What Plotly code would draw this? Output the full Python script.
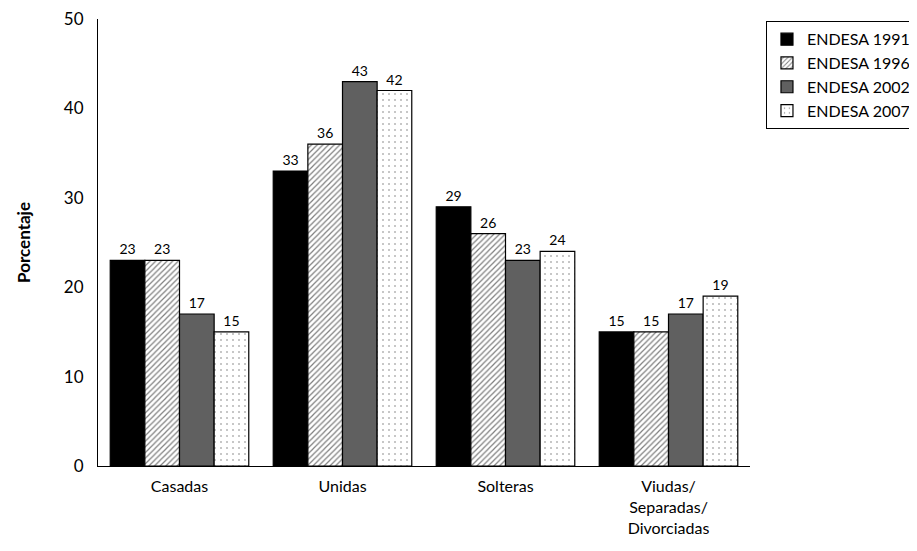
import plotly.graph_objects as go

categories = ["Casadas", "Unidas", "Solteras", "Viudas/<br>Separadas/<br>Divorciadas"]
series_names = ["ENDESA 1991", "ENDESA 1996", "ENDESA 2002", "ENDESA 2007"]
v1991 = [23, 33, 29, 15]
v1996 = [23, 36, 26, 15]
v2002 = [17, 43, 23, 17]
v2007 = [15, 42, 24, 19]
values = [v1991, v1996, v2002, v2007]
y_ticks = [0, 10, 20, 30, 40, 50]

FONT = "Lato"
styles = [
    dict(color="#000000", pattern=dict(shape="")),
    dict(color="#ffffff", pattern=dict(shape="/", fgcolor="#000000", bgcolor="#ffffff", size=4, solidity=0.3, fillmode="overlay")),
    dict(color="#606060", pattern=dict(shape="")),
    dict(color="#ffffff", pattern=dict(shape=".", fgcolor="#000000", bgcolor="#ffffff", size=6, solidity=0.06, fillmode="overlay")),
]

fig = go.Figure()
for name, vals, st in zip(series_names, values, styles):
    fig.add_trace(go.Bar(
        x=categories, y=vals, name=name,
        text=[str(v) for v in vals], textposition="outside",
        textfont=dict(family=FONT, size=14, color="#000"),
        cliponaxis=False,
        marker=dict(color=st["color"], pattern=st["pattern"],
                    line=dict(color="#000000", width=1.2)),
    ))

fig.update_layout(
    width=917, height=551,
    margin=dict(l=90, r=175, t=11, b=93, autoexpand=False),
    paper_bgcolor="white", plot_bgcolor="white",
    barmode="group", bargap=0.15, bargroupgap=0,
    font=dict(family=FONT, size=16, color="#000"),
    showlegend=True,
    legend=dict(x=1.0245, y=0.995, xanchor="left", yanchor="top",
                bordercolor="#000", borderwidth=1, bgcolor="white",
                font=dict(family=FONT, size=16, color="#000"),
                itemwidth=30, tracegroupgap=0),
    xaxis=dict(showline=True, linecolor="#000", linewidth=1, ticks="", automargin=False,
               ticklabelstandoff=6,
               tickfont=dict(family=FONT, size=16, color="#000"), showgrid=False),
    yaxis=dict(range=[0, 50], tickvals=y_ticks, showline=True, linecolor="#000", linewidth=1,
               ticks="", showgrid=False, zeroline=False, automargin=False,
               ticklabelstandoff=10, ticklabeloverflow="allow",
               tickfont=dict(family=FONT, size=17, color="#000"),
               title=dict(text="<b>Porcentaje</b>", font=dict(family=FONT, size=17, color="#000"), standoff=28)),
)

fig.write_html("out.html")
